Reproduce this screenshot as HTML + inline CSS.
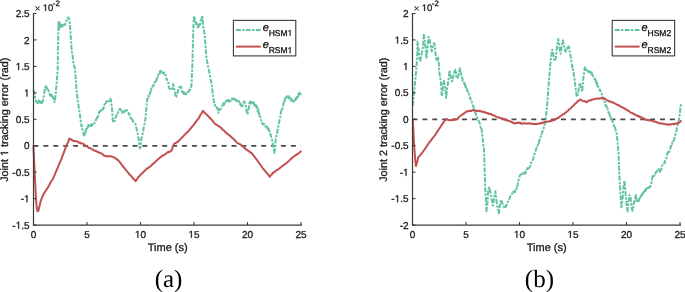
<!DOCTYPE html>
<html><head><meta charset="utf-8"><style>
html,body{margin:0;padding:0;background:#fff;width:685px;height:292px;overflow:hidden}
svg{display:block;will-change:transform}
text{font-family:"Liberation Sans",sans-serif;fill:#1a1a1a;stroke:#1a1a1a;stroke-width:0.3px;text-rendering:geometricPrecision}
.t{font-size:10px}
.sup{font-size:7.8px}
.xl{font-size:11px}
.yl{font-size:10.8px}
.e{font-size:11px;font-style:italic;fill:#000}
.s{font-size:8.5px;fill:#000}
.cap{font-family:"Liberation Serif",serif;font-size:25px;fill:#000;stroke:none}
.h{fill:none;stroke:none}
.g1{fill:#1a1a1a;stroke:#1a1a1a}
</style></head><body>
<svg width="685" height="292" viewBox="0 0 685 292">
<line x1="33.5" y1="145.85" x2="301.0" y2="145.85" stroke="#4a4a4a" stroke-width="1.6" stroke-dasharray="4.95 4.95"/>
<line x1="412.5" y1="119.4" x2="680.0" y2="119.4" stroke="#4a4a4a" stroke-width="1.6" stroke-dasharray="4.95 4.95"/>
<polyline points="33.7,90.0 34.1,92.5 34.5,95.0 35.0,96.7 35.5,100.1 35.9,100.3 36.4,101.8 36.8,102.6 37.2,101.5 37.6,100.9 38.0,103.1 38.4,100.9 38.8,100.4 39.2,102.4 39.6,101.1 40.0,102.7 40.5,102.0 40.9,102.9 41.3,101.8 41.6,102.8 42.0,103.0 42.3,101.4 42.7,101.6 43.0,100.9 43.4,98.4 43.8,95.9 44.2,92.0 44.6,91.1 45.0,88.8 45.4,87.4 45.8,86.0 46.2,88.2 46.6,87.2 47.0,88.4 47.4,89.2 47.8,89.5 48.1,91.0 48.5,90.2 49.0,92.7 49.5,92.8 50.0,95.1 50.5,95.7 50.9,93.6 51.2,94.1 51.5,94.7 51.9,97.5 52.2,96.1 52.6,97.1 53.0,96.9 53.3,98.4 53.7,98.9 54.0,99.6 54.4,101.2 54.7,102.1 55.2,98.2 55.7,94.7 56.2,88.5 56.7,82.3 57.2,76.2 57.7,70.0 57.9,49.7 58.4,30.0 58.6,21.0 59.3,29.0 59.9,23.0 60.2,25.5 60.6,28.0 61.3,24.7 61.6,25.8 62.0,27.8 62.4,26.4 62.7,25.4 63.4,26.3 63.8,24.5 64.2,24.9 64.7,25.0 65.2,24.7 65.6,23.1 66.0,22.4 66.3,20.5 66.7,20.6 67.3,18.6 67.9,17.4 68.6,17.5 69.2,19.5 69.6,21.6 69.9,23.7 70.3,30.5 70.8,37.4 71.2,43.5 71.6,49.7 71.9,51.7 72.3,53.7 72.7,56.5 73.0,59.2 73.3,62.0 73.7,64.7 74.2,66.1 74.6,67.4 75.1,68.8 75.4,74.2 75.8,79.7 76.2,86.4 76.6,90.0 77.0,93.6 77.3,97.2 77.7,100.8 78.1,103.3 78.5,105.9 78.9,108.5 79.3,111.0 79.7,112.8 80.0,115.6 80.5,118.8 81.0,122.9 81.4,125.9 81.8,125.4 82.1,129.0 82.5,129.8 82.9,130.2 83.2,131.7 83.6,134.1 84.0,135.5 84.4,133.1 84.9,134.5 85.3,132.8 85.7,132.6 86.0,129.6 86.4,129.0 86.8,128.8 87.1,127.2 87.5,128.1 87.8,125.9 88.2,124.9 88.6,126.5 89.0,125.2 89.5,125.8 89.9,126.6 90.3,127.3 90.7,125.5 91.1,124.6 91.5,126.1 91.9,124.0 92.3,125.1 92.7,124.8 93.0,123.2 93.3,123.3 93.7,123.3 94.1,123.4 94.4,123.1 94.8,122.2 95.2,121.6 95.6,121.6 96.0,119.6 96.4,118.6 96.8,118.6 97.2,116.5 97.7,115.8 98.1,116.8 98.5,114.8 98.9,114.0 99.3,111.7 99.7,112.0 100.1,111.5 100.5,109.3 100.9,110.6 101.3,110.4 101.8,108.8 102.2,110.0 102.6,109.4 102.9,109.3 103.3,107.8 103.7,108.0 104.0,107.4 104.3,104.8 104.7,104.3 105.1,105.0 105.5,105.0 105.9,102.3 106.3,102.0 106.7,101.5 107.1,101.0 107.5,101.3 108.0,101.4 108.4,101.8 108.8,102.5 109.2,101.2 109.6,100.7 110.0,101.1 110.4,98.6 110.8,99.4 111.3,102.8 111.8,106.4 112.2,111.2 112.5,116.0 112.9,120.8 113.4,122.3 113.9,122.6 114.3,121.2 114.7,121.0 115.2,118.7 115.6,117.4 116.0,116.6 116.4,116.2 116.8,114.3 117.2,113.9 117.6,113.1 118.0,113.2 118.4,111.7 118.8,111.6 119.3,109.5 119.7,109.0 120.1,108.8 120.5,110.0 120.9,110.1 121.3,110.5 121.7,111.1 122.1,112.7 122.4,111.9 122.8,112.8 123.2,112.7 123.5,111.4 123.8,111.4 124.2,112.2 124.6,111.4 125.0,111.3 125.4,110.1 125.8,109.3 126.2,109.1 126.6,110.5 126.9,110.1 127.2,110.8 127.6,111.4 128.0,111.9 128.3,112.4 128.7,114.2 129.1,113.6 129.5,114.2 129.9,116.7 130.3,117.4 130.7,118.2 131.1,117.8 131.6,119.4 132.0,119.9 132.4,119.3 132.8,120.9 133.2,121.6 133.6,122.0 134.0,122.3 134.4,122.5 134.8,123.3 135.2,123.9 135.6,124.3 136.0,126.0 136.4,127.8 136.9,129.9 137.3,131.9 137.8,134.4 138.2,137.0 138.7,139.5 139.1,142.5 139.4,145.4 139.8,148.4 140.3,147.4 140.8,146.3 141.4,138.0 141.8,136.8 142.1,135.7 142.5,134.5 142.8,133.3 143.2,131.0 143.5,128.7 143.9,126.4 144.4,124.3 144.9,122.3 145.5,118.2 146.2,110.0 146.6,105.0 147.0,100.1 147.4,98.5 147.8,98.7 148.3,95.8 148.7,96.7 149.1,95.2 149.5,94.7 149.9,93.7 150.3,92.7 150.6,90.9 151.0,88.6 151.4,89.4 151.8,87.0 152.2,86.6 152.6,86.8 153.0,85.8 153.4,84.9 153.8,85.4 154.2,84.0 154.6,82.6 155.0,81.7 155.4,82.5 155.8,80.9 156.2,81.0 156.6,79.2 156.9,77.8 157.3,77.6 157.7,77.3 158.0,74.7 158.4,75.5 158.8,75.1 159.3,74.1 159.7,73.5 160.1,70.8 160.5,72.4 160.9,73.2 161.3,71.3 161.7,72.0 162.1,72.1 162.5,72.9 162.9,72.8 163.4,73.1 163.8,73.9 164.2,72.2 164.6,73.0 165.1,73.9 165.5,74.6 165.8,75.5 166.2,78.7 166.6,79.4 166.9,78.6 167.2,80.5 167.6,80.9 168.0,81.7 168.3,82.6 169.0,87.8 169.4,88.6 169.9,88.9 170.3,88.9 170.8,88.9 171.2,89.7 171.7,89.6 172.0,89.3 172.4,88.3 172.8,86.1 173.1,84.0 173.6,85.6 174.0,87.5 174.4,89.7 174.7,91.7 175.1,92.3 175.4,95.0 175.8,97.4 176.3,97.0 176.7,95.4 177.2,93.8 177.5,92.3 177.9,91.2 178.2,90.4 178.6,88.3 179.0,88.1 179.5,86.6 179.9,85.2 180.2,86.6 180.6,87.6 181.0,86.8 181.3,88.3 181.8,89.5 182.2,91.7 182.7,92.9 183.1,92.0 183.5,93.8 183.9,93.9 184.3,93.1 184.7,93.5 185.1,92.6 185.4,94.2 185.8,93.7 186.2,94.1 186.6,93.8 186.9,93.4 187.3,93.5 187.7,93.0 188.1,91.5 188.4,92.3 188.8,90.5 189.2,90.5 189.6,91.6 189.9,89.5 190.3,89.2 190.7,87.2 191.2,87.1 191.6,83.4 191.9,75.7 192.3,67.1 192.8,50.0 193.3,30.5 193.7,18.2 194.0,17.0 194.4,20.0 194.8,18.0 195.1,20.7 195.5,21.3 196.0,22.9 196.4,24.4 196.8,24.1 197.1,25.7 197.5,24.1 197.8,27.3 198.3,26.2 198.7,26.7 199.2,24.5 199.6,25.4 200.1,24.9 200.5,20.9 200.8,20.4 201.2,19.8 201.6,19.2 201.9,16.0 202.6,17.2 202.9,23.0 203.3,27.8 203.8,30.1 204.2,32.4 204.7,34.7 205.3,41.5 205.8,49.7 206.5,58.6 206.9,60.3 207.2,62.0 207.6,63.7 207.9,65.4 208.3,67.1 208.7,69.2 209.2,71.4 209.6,73.5 210.0,75.7 210.4,77.8 210.8,80.0 211.3,82.1 211.7,84.2 212.1,88.1 212.5,92.0 212.9,95.0 213.3,98.0 213.8,100.8 214.2,103.5 214.5,103.4 214.9,104.8 215.2,105.7 215.6,105.3 216.0,105.7 216.3,106.3 216.7,107.2 217.1,108.4 217.6,108.6 218.0,110.7 218.4,112.9 218.8,110.9 219.2,111.1 219.6,109.0 220.0,109.7 220.4,109.3 220.8,108.2 221.2,107.0 221.7,106.1 222.1,105.7 222.5,105.5 222.9,103.4 223.3,103.0 223.7,104.5 224.1,104.8 224.5,103.5 224.9,102.9 225.3,103.2 225.8,101.4 226.2,101.2 226.6,100.6 227.0,101.4 227.4,100.5 227.8,100.1 228.2,101.1 228.6,101.6 229.0,99.9 229.4,100.9 229.9,100.2 230.3,101.3 230.7,100.6 231.1,99.6 231.5,99.3 231.9,98.6 232.3,99.5 232.7,99.1 233.0,98.5 233.4,99.0 233.8,98.9 234.1,100.1 234.5,98.5 234.8,100.7 235.2,99.5 235.6,100.1 236.0,99.9 236.4,101.1 236.8,101.2 237.2,100.7 237.6,100.8 238.1,101.6 238.5,102.1 238.9,101.1 239.3,102.8 239.7,104.2 240.2,103.7 240.6,103.5 241.0,104.3 241.4,106.3 241.8,105.9 242.2,106.9 242.6,106.3 243.0,103.4 243.4,102.5 243.8,102.2 244.3,101.3 244.7,102.9 245.1,103.0 245.6,104.5 246.1,107.6 246.6,111.9 247.1,111.6 247.6,113.8 248.1,110.9 248.5,109.3 248.8,108.6 249.2,103.7 249.7,102.0 250.2,103.5 250.6,101.6 250.9,102.4 251.3,103.9 251.6,104.8 252.0,102.3 252.4,103.3 252.9,103.2 253.3,102.9 253.7,102.3 254.1,104.6 254.5,106.8 254.9,104.9 255.3,106.2 255.7,104.7 256.1,105.8 256.6,107.9 257.0,105.8 257.5,110.4 257.9,111.6 258.4,109.2 258.8,114.3 259.2,113.5 259.6,115.7 260.0,117.0 260.4,117.2 260.8,119.0 261.1,120.1 261.5,121.4 261.9,121.4 262.3,123.5 262.7,124.3 263.1,124.1 263.5,124.2 263.9,123.8 264.2,124.9 264.6,125.0 265.0,126.1 265.4,126.5 265.8,126.6 266.2,126.2 266.6,127.6 266.9,127.9 267.3,127.4 267.7,129.2 268.1,129.1 268.5,128.4 268.9,131.0 269.3,130.4 269.6,131.8 270.0,133.5 270.4,134.2 270.8,135.1 271.2,136.8 271.7,138.7 272.1,140.5 272.6,142.8 273.0,145.1 273.5,147.4 274.2,152.9 274.6,151.1 274.9,149.2 275.3,147.4 275.5,140.5 276.0,138.2 276.4,136.0 276.9,133.7 277.3,131.8 277.7,129.8 278.0,127.9 278.4,125.9 278.8,124.0 279.2,122.0 279.6,119.9 280.0,118.4 280.4,115.7 280.8,113.2 281.2,111.1 281.6,109.2 282.1,109.9 282.5,108.5 283.0,105.7 283.4,104.3 283.9,100.9 284.2,100.1 284.6,100.0 284.9,101.2 285.3,97.8 285.6,98.9 286.0,97.5 286.4,98.7 286.8,96.7 287.2,96.0 287.6,95.6 288.0,95.4 288.4,96.9 288.7,96.2 289.1,98.5 289.4,96.7 289.8,97.9 290.1,98.0 290.5,98.3 290.9,100.8 291.2,100.9 291.6,99.3 292.0,99.6 292.4,100.6 292.7,102.0 293.1,102.5 293.5,102.0 293.9,101.3 294.4,99.6 294.8,100.3 295.2,99.4 295.6,100.0 295.9,99.6 296.2,97.8 296.6,97.5 296.9,98.8 297.3,95.7 297.7,97.1 298.1,96.1 298.5,95.0 298.9,91.8 299.2,92.7 299.6,93.1 299.9,93.7 300.3,95.2 300.6,94.5 301.0,93.5" fill="none" stroke="#62c3a2" stroke-width="2" stroke-linejoin="round" stroke-dasharray="4.9 1.3 2.4 1.3"/>
<polyline points="33.4,145.4 34.1,160.0 35.1,180.5 36.0,200.0 36.8,208.0 37.6,211.3 38.5,210.5 39.5,206.0 40.5,202.0 41.2,199.8 42.0,197.5 42.7,196.2 43.3,194.8 44.0,193.5 44.6,192.5 45.2,191.5 45.9,190.5 46.5,189.5 47.2,188.5 47.8,187.5 48.5,186.5 49.2,185.2 49.8,183.8 50.5,182.5 51.2,181.5 51.9,180.5 52.6,179.5 53.3,177.9 54.0,176.3 54.7,174.8 55.3,173.2 56.0,171.6 56.7,170.0 57.4,168.4 58.1,166.8 58.8,165.2 59.4,163.7 60.1,162.1 60.8,160.5 61.4,158.9 62.0,157.2 62.6,155.6 63.3,153.9 63.9,152.3 64.5,150.6 65.1,149.0 65.7,147.5 66.3,146.0 66.9,144.5 67.6,143.1 68.2,141.6 68.8,140.1 69.4,138.6 70.2,139.0 71.1,139.4 71.8,140.0 72.4,140.2 73.0,140.7 73.7,141.1 74.3,140.9 75.0,141.1 75.6,141.2 76.2,141.2 76.8,141.2 77.5,141.7 78.2,141.9 78.8,142.7 79.4,142.8 80.0,142.6 80.7,143.2 81.3,143.4 81.9,143.4 82.5,143.6 83.1,143.8 83.8,144.2 84.4,144.9 85.0,145.1 85.7,145.7 86.3,146.2 86.9,146.4 87.6,146.9 88.2,147.2 88.8,147.7 89.5,147.9 90.1,148.3 90.7,148.5 91.3,148.9 91.9,149.1 92.6,149.4 93.2,150.0 93.8,150.3 94.4,150.6 95.1,150.8 95.7,151.0 96.3,151.2 97.0,151.6 97.6,151.8 98.2,152.3 98.9,152.4 99.5,152.8 100.1,152.8 100.8,153.3 101.4,153.5 102.1,153.7 102.8,154.4 103.5,155.3 104.2,155.7 104.9,156.1 105.6,155.9 106.3,155.9 107.0,156.4 107.6,156.4 108.3,156.2 108.9,156.1 109.5,156.2 110.2,156.5 110.8,156.4 111.4,156.3 112.0,156.6 112.7,156.8 113.3,156.9 113.9,157.5 114.5,157.4 115.1,158.1 115.8,158.5 116.4,158.8 117.0,159.6 117.7,159.7 118.3,160.5 118.9,161.0 119.6,161.9 120.2,162.6 120.8,163.4 121.5,164.6 122.1,165.3 122.7,165.8 123.3,166.9 123.9,167.3 124.6,168.2 125.2,169.2 125.8,169.9 126.4,170.4 127.1,171.6 127.7,172.0 128.3,172.8 129.0,173.9 129.6,174.4 130.2,175.1 130.9,175.7 131.5,176.4 132.1,177.3 132.8,177.9 133.4,178.8 134.1,179.4 134.9,180.3 135.6,181.3 136.2,180.2 136.8,179.3 137.5,178.5 138.1,177.2 138.8,176.5 139.5,176.2 140.2,175.4 140.9,174.4 141.6,173.7 142.2,173.3 142.9,172.7 143.5,171.7 144.2,171.4 144.8,170.7 145.5,170.0 146.1,169.4 146.7,168.8 147.3,168.3 147.9,168.3 148.6,167.5 149.2,167.3 149.8,166.6 150.4,166.4 151.0,165.8 151.6,165.1 152.2,164.5 152.8,164.2 153.4,163.4 154.0,162.9 154.6,162.5 155.2,162.1 155.8,161.4 156.4,160.7 157.0,160.5 157.6,159.6 158.2,159.0 158.8,158.6 159.5,158.2 160.1,157.5 160.7,157.1 161.3,156.6 161.9,156.2 162.5,155.6 163.1,155.3 163.7,155.2 164.3,154.8 165.0,154.3 165.6,153.9 166.2,153.4 166.8,152.8 167.4,152.4 168.1,152.0 168.8,152.2 169.4,151.8 170.1,151.6 170.8,150.8 171.5,150.8 172.2,148.6 172.9,146.7 173.6,145.1 174.2,144.0 174.8,143.2 175.4,143.1 176.0,142.8 176.6,142.5 177.2,142.0 177.8,141.6 178.4,141.2 179.0,140.7 179.6,139.8 180.2,139.4 180.8,138.9 181.4,138.2 182.0,137.4 182.6,137.0 183.2,136.4 183.8,135.6 184.4,135.1 185.0,134.3 185.6,133.8 186.2,133.2 186.9,132.3 187.5,132.0 188.1,131.6 188.7,130.9 189.3,130.2 189.9,129.3 190.5,128.7 191.1,127.9 191.7,127.0 192.4,126.5 193.0,125.4 193.6,124.9 194.2,123.8 194.8,123.4 195.5,122.4 196.2,121.3 196.9,120.6 197.5,119.6 198.2,118.8 198.9,118.0 199.6,116.5 200.3,115.3 200.9,114.3 201.6,113.4 202.3,112.0 203.0,110.8 203.7,111.9 204.4,112.4 205.1,113.0 205.8,113.9 206.5,114.3 207.2,115.1 207.9,115.6 208.5,116.4 209.2,117.3 209.9,118.0 210.5,118.7 211.1,119.1 211.7,119.9 212.3,120.5 212.9,121.1 213.5,121.9 214.1,122.8 214.7,123.5 215.3,124.1 215.9,124.6 216.5,124.7 217.1,125.1 217.7,125.6 218.4,125.9 219.0,126.3 219.6,126.8 220.2,127.3 220.8,127.7 221.4,128.0 222.1,129.0 222.8,129.7 223.4,130.2 224.1,130.7 224.8,131.4 225.5,132.5 226.1,132.6 226.7,133.4 227.4,133.9 228.0,134.2 228.6,135.0 229.2,135.1 229.8,135.7 230.5,136.4 231.1,136.7 231.7,137.6 232.4,137.9 233.0,138.4 233.7,139.0 234.3,139.9 235.0,140.4 235.7,141.2 236.4,141.9 237.1,142.7 237.8,143.4 238.5,143.7 239.2,143.8 239.9,144.3 240.6,144.5 241.2,145.0 241.9,145.8 242.5,146.4 243.1,146.7 243.8,147.3 244.4,147.8 245.0,148.5 245.7,148.8 246.3,149.4 246.9,149.9 247.6,150.2 248.2,150.8 248.8,151.4 249.5,151.4 250.1,152.3 250.7,152.7 251.4,152.8 252.0,153.5 252.6,154.3 253.2,155.3 253.8,155.8 254.5,156.7 255.1,157.6 255.7,158.3 256.3,159.3 257.0,159.9 257.6,160.9 258.2,161.6 258.9,162.7 259.5,163.7 260.1,164.4 260.7,165.3 261.4,165.9 262.0,167.1 262.6,168.0 263.2,168.8 263.8,169.4 264.5,170.3 265.1,170.9 265.7,171.9 266.4,172.7 267.0,173.2 267.7,173.9 268.4,175.0 269.1,175.9 269.8,176.8 270.5,175.8 271.2,174.8 272.0,174.3 272.7,173.1 273.3,173.0 273.9,172.2 274.5,171.8 275.2,171.6 275.8,170.8 276.4,170.3 277.0,170.0 277.7,169.7 278.3,169.3 278.9,168.7 279.6,168.4 280.2,167.7 280.8,167.4 281.5,166.5 282.1,166.1 282.7,165.8 283.4,165.2 284.0,164.9 284.6,164.4 285.2,163.9 285.9,163.6 286.5,163.0 287.1,162.4 287.7,161.9 288.3,161.5 289.0,160.9 289.6,160.0 290.2,159.6 290.9,159.1 291.5,158.2 292.1,157.8 292.8,157.1 293.4,156.8 294.0,156.3 294.7,155.9 295.3,155.2 295.9,155.2 296.5,154.6 297.1,154.2 297.8,154.0 298.4,153.4 299.0,153.0 299.6,152.6 300.2,151.8 300.9,151.6 301.5,151.1" fill="none" stroke="#c25050" stroke-width="2" stroke-linejoin="round"/>
<polyline points="412.8,105.5 413.3,100.7 413.7,95.9 414.2,91.1 414.7,85.9 415.2,80.8 415.7,75.7 416.2,70.5 416.7,64.3 417.2,58.2 417.5,41.6 418.0,45.0 418.4,48.5 418.9,51.9 419.2,55.3 419.6,58.8 420.0,59.5 420.3,60.2 420.7,60.7 421.1,56.7 421.6,53.3 422.1,51.9 422.5,49.2 423.0,47.2 423.7,34.8 424.1,35.9 424.4,38.9 424.8,41.9 425.3,45.8 425.8,50.5 426.4,58.8 426.8,55.1 427.1,51.5 427.5,47.8 428.0,42.3 428.5,36.8 429.0,38.5 429.5,40.4 429.9,40.9 430.3,43.6 430.8,46.5 431.2,49.2 431.9,51.4 432.3,49.6 432.6,47.3 433.0,45.0 433.5,44.1 434.0,43.1 434.7,45.4 435.3,51.9 436.0,57.4 436.7,60.9 437.1,60.0 437.4,60.3 437.8,59.0 438.1,56.7 438.8,64.2 439.3,72.1 439.7,74.7 440.1,77.2 440.6,79.8 441.0,82.4 441.4,89.2 441.8,96.1 442.2,92.7 442.7,89.2 443.1,86.4 443.5,83.5 443.9,80.7 444.2,82.8 444.6,85.0 444.9,87.1 445.3,89.2 445.7,93.5 446.1,97.8 446.6,93.5 447.0,89.2 447.5,86.4 447.9,83.5 448.4,80.7 448.8,77.3 449.2,73.8 449.6,70.4 450.0,73.3 450.4,74.3 450.8,77.5 451.2,77.7 451.7,78.6 452.1,81.4 452.5,78.4 453.0,76.7 453.4,76.5 453.8,74.5 454.3,72.0 454.7,71.9 455.2,69.7 455.6,72.1 456.0,72.6 456.4,76.8 456.8,76.5 457.2,77.8 457.7,78.0 458.1,76.7 458.5,75.0 459.0,72.4 459.4,70.5 459.8,68.3 460.2,71.1 460.7,74.1 461.1,73.6 461.5,76.9 462.0,77.2 462.4,78.4 462.8,81.0 463.2,81.1 463.7,81.7 464.1,83.2 464.5,84.8 465.0,83.7 465.4,87.3 465.8,85.3 466.2,88.3 466.6,89.5 467.1,89.0 467.5,91.6 467.9,91.7 468.3,93.2 468.7,93.0 469.1,94.1 469.5,95.4 469.9,98.0 470.3,97.5 470.6,99.6 471.0,101.0 471.4,102.0 471.8,101.9 472.2,102.9 472.6,104.5 473.0,106.2 473.4,106.1 473.8,108.7 474.2,110.0 474.6,111.1 474.9,110.5 475.2,113.3 475.6,112.6 475.9,114.2 476.3,115.7 476.7,117.4 477.1,117.3 477.6,119.5 478.0,119.8 478.4,120.3 478.8,121.4 479.2,122.1 479.6,122.9 480.0,124.1 480.4,126.2 480.8,127.8 481.1,127.2 481.4,128.0 481.8,131.0 482.5,136.1 483.0,141.2 483.5,146.4 484.1,150.1 484.6,169.2 485.1,186.0 485.8,198.0 486.5,211.2 487.0,207.0 487.5,202.8 488.2,190.8 488.6,189.4 489.0,187.9 489.4,187.4 489.8,189.9 490.2,191.1 490.6,193.0 491.0,195.6 491.4,198.0 491.8,200.4 492.2,201.5 492.6,205.2 493.0,205.5 493.4,203.2 493.8,200.0 494.2,196.8 494.6,195.2 495.0,194.3 495.4,191.3 495.8,195.2 496.2,198.4 496.6,201.6 497.0,204.1 497.4,206.5 497.8,207.9 498.2,210.1 498.6,210.7 499.0,213.4 499.4,209.9 499.8,206.4 500.2,202.8 500.6,201.3 501.0,201.9 501.4,200.0 501.8,201.1 502.2,203.0 502.6,203.5 503.0,205.0 503.4,205.1 503.8,206.4 504.2,207.7 504.6,208.0 505.0,208.4 505.4,207.4 505.8,205.7 506.2,205.0 506.6,205.4 507.0,204.5 507.4,203.1 507.8,202.0 508.2,200.9 508.6,199.6 509.0,198.9 509.4,199.0 509.8,198.1 510.2,196.1 510.6,196.0 511.0,194.9 511.4,194.4 511.8,193.9 512.2,193.7 512.6,192.5 513.0,192.8 513.4,191.6 513.8,191.8 514.2,192.1 514.6,191.8 515.0,190.8 515.4,191.9 515.8,191.1 516.2,190.2 516.6,188.2 517.0,188.5 517.4,185.5 517.8,183.9 518.2,181.1 518.6,180.2 519.0,178.3 519.4,177.0 519.8,175.3 520.2,175.1 520.6,174.5 521.0,174.5 521.4,173.3 521.8,174.1 522.2,173.9 522.6,173.4 523.0,173.8 523.4,173.7 523.8,172.8 524.2,172.9 524.6,172.1 525.0,173.5 525.4,173.7 525.8,171.6 526.2,170.8 526.6,169.6 527.0,169.5 527.4,168.1 527.8,169.2 528.2,168.6 528.6,168.5 529.0,167.8 529.4,167.4 529.8,166.9 530.2,165.9 530.6,165.2 531.0,163.1 531.4,162.5 531.8,162.1 532.2,161.5 532.6,159.6 533.0,159.6 533.4,158.5 533.8,156.3 534.2,155.9 534.5,154.3 534.9,152.7 535.3,151.7 535.6,150.8 536.0,149.4 536.4,148.4 536.7,147.2 537.1,147.1 537.4,145.9 537.8,145.4 538.2,144.4 538.5,142.8 538.9,143.1 539.2,140.4 539.6,140.2 540.0,138.8 540.4,137.8 540.8,136.0 541.2,136.3 541.6,134.1 542.0,132.3 542.4,132.2 542.8,130.0 543.2,129.7 543.6,128.1 544.0,127.4 544.4,126.9 544.8,124.2 545.2,121.0 545.6,119.4 546.0,115.6 546.4,112.4 546.8,109.2 547.2,104.4 547.6,99.6 548.1,92.4 548.6,85.2 549.0,80.4 549.4,75.6 549.8,70.8 550.2,66.0 550.6,61.2 551.0,56.4 551.4,54.7 551.8,52.1 552.2,49.7 552.6,51.8 553.0,52.9 553.4,54.9 553.8,57.3 554.2,59.0 554.6,60.9 555.0,61.2 555.4,58.6 555.8,58.0 556.2,54.8 556.6,50.8 557.0,46.8 557.4,44.5 557.8,42.2 558.2,38.9 558.6,42.0 559.0,44.4 559.4,46.8 559.8,49.5 560.2,52.4 560.6,53.8 561.0,50.8 561.4,47.6 561.8,44.4 562.2,43.1 562.6,41.5 563.0,40.4 563.4,43.3 563.8,43.8 564.2,46.5 564.6,48.4 565.0,49.8 565.4,51.1 565.8,51.8 566.2,50.0 566.6,49.0 567.0,48.0 567.4,48.6 567.8,46.8 568.2,46.4 568.6,47.5 569.0,46.6 569.4,50.4 569.8,51.8 570.2,53.3 570.6,56.4 571.0,58.8 571.4,61.2 571.8,64.6 572.2,67.2 572.6,66.6 573.0,70.1 573.4,70.8 573.8,74.8 574.2,76.4 574.6,79.6 575.0,82.8 575.4,86.0 575.8,89.2 576.2,92.4 576.7,96.0 577.2,96.7 577.7,94.2 578.1,91.8 578.6,91.0 579.0,87.6 579.4,85.2 579.8,82.8 580.2,84.0 580.6,86.2 581.0,87.5 581.4,89.1 581.8,90.2 582.2,91.7 582.6,86.8 583.0,82.4 583.4,78.0 583.8,74.8 584.2,71.6 584.6,68.4 585.0,67.5 585.4,70.1 585.8,68.9 586.2,70.0 586.6,69.6 587.0,69.8 587.4,70.9 587.8,70.9 588.2,70.7 588.6,72.2 589.0,71.9 589.4,70.2 589.8,71.2 590.2,72.2 590.6,74.2 591.0,74.5 591.4,73.8 591.8,72.3 592.2,75.3 592.6,74.8 593.0,75.9 593.4,76.9 593.8,77.2 594.2,77.3 594.6,79.4 595.0,78.6 595.4,79.6 595.8,82.2 596.2,81.0 596.6,82.3 597.0,85.1 597.4,83.3 597.8,86.7 598.2,86.8 598.6,87.1 599.0,87.6 599.4,89.4 599.8,90.5 600.1,89.8 600.5,91.4 600.8,92.4 601.1,93.1 601.5,93.7 601.9,94.3 602.3,96.2 602.6,97.7 603.0,97.2 603.4,98.5 603.8,100.7 604.1,101.5 604.5,102.1 604.9,101.7 605.2,103.9 605.5,105.3 605.9,106.2 606.2,106.5 606.6,106.0 607.0,108.6 607.4,108.3 607.8,110.1 608.1,111.7 608.5,112.3 608.9,112.1 609.3,113.4 609.6,115.5 610.0,114.9 610.3,116.7 610.7,117.2 611.0,117.6 611.4,119.4 611.8,119.2 612.1,120.2 612.5,121.7 612.9,122.0 613.2,122.9 613.6,124.9 614.0,126.1 614.4,127.4 614.7,126.8 615.1,128.4 615.5,129.1 615.9,131.1 616.4,132.3 616.8,134.6 617.2,137.8 617.5,141.9 617.9,146.0 618.2,150.1 618.6,154.2 619.2,172.3 619.9,184.7 620.3,190.8 620.7,197.0 621.3,207.3 621.8,204.2 622.3,201.1 622.7,197.0 623.0,192.9 623.4,188.8 623.9,184.7 624.4,180.5 624.9,185.7 625.4,190.8 625.9,196.9 626.4,203.1 626.8,205.9 627.1,208.6 627.5,211.4 628.0,206.2 628.5,201.1 629.0,198.0 629.5,194.9 630.0,195.7 630.5,196.1 630.9,200.4 631.2,203.9 631.6,207.3 632.1,209.7 632.6,210.7 633.1,207.8 633.6,204.2 634.0,203.1 634.3,201.5 634.7,200.9 635.2,197.6 635.7,195.1 636.2,198.0 636.7,201.1 637.1,200.6 637.5,201.2 638.0,200.6 638.4,201.6 638.8,201.1 639.2,199.3 639.6,198.5 640.0,197.8 640.4,197.5 640.8,195.4 641.1,196.1 641.5,195.6 641.8,194.1 642.2,194.9 642.5,193.4 642.9,193.1 643.3,193.5 643.7,192.1 644.1,192.8 644.5,191.4 644.9,190.4 645.2,191.1 645.6,189.2 646.0,190.3 646.3,188.6 646.6,188.4 647.0,189.7 647.4,188.9 647.8,187.8 648.2,187.4 648.6,188.9 649.0,188.0 649.4,187.9 649.8,186.1 650.2,186.6 650.6,185.6 651.0,184.9 651.4,182.9 651.8,181.3 652.2,178.2 652.7,175.8 653.1,175.0 653.5,176.2 654.0,175.6 654.4,175.7 654.8,174.1 655.2,174.1 655.7,172.6 656.1,171.9 656.5,171.6 656.8,171.7 657.2,170.8 657.6,169.9 658.0,169.6 658.3,169.6 658.7,169.1 659.1,171.2 659.5,170.8 660.0,171.8 660.4,170.7 660.8,170.1 661.2,169.5 661.7,167.4 662.1,165.6 662.5,165.1 662.8,163.9 663.2,163.6 663.6,163.1 664.0,163.0 664.3,162.6 664.7,163.1 665.1,160.7 665.5,160.1 666.0,159.2 666.4,158.1 666.8,155.8 667.3,153.2 667.7,153.2 668.1,151.9 668.6,153.3 669.0,151.7 669.4,151.6 669.9,149.8 670.3,148.4 670.7,146.7 671.1,146.6 671.5,143.9 672.0,144.0 672.4,142.2 672.8,142.5 673.2,142.2 673.7,140.7 674.1,140.3 674.6,137.9 675.0,136.2 675.5,133.9 676.0,132.2 676.4,131.1 676.9,127.6 677.4,125.7 677.8,124.2 678.3,122.0 678.6,121.1 679.0,119.4 679.4,116.6 679.7,115.0 680.3,108.7 680.6,106.3 681.0,103.9" fill="none" stroke="#62c3a2" stroke-width="2" stroke-linejoin="round" stroke-dasharray="4.9 1.3 2.4 1.3"/>
<polyline points="412.8,119.2 414.0,143.2 415.2,160.0 415.9,166.0 416.5,164.2 417.1,162.4 418.1,157.6 418.7,156.9 419.3,156.2 420.0,155.4 420.6,154.7 421.2,154.0 421.8,153.2 422.4,152.4 423.0,151.6 423.6,150.8 424.2,150.0 424.8,149.2 425.4,148.3 426.0,147.4 426.6,146.5 427.2,145.6 427.8,144.7 428.4,143.8 429.0,142.9 429.6,142.0 430.3,141.1 431.0,140.3 431.7,139.4 432.3,138.6 433.0,137.7 433.7,136.9 434.4,136.0 435.0,135.1 435.6,134.2 436.2,133.3 436.8,132.4 437.4,131.5 438.0,130.6 438.6,129.7 439.2,128.8 439.8,127.9 440.4,127.0 441.0,126.0 441.6,124.9 442.2,124.6 442.8,123.1 443.4,122.5 444.0,121.9 444.8,120.5 445.6,120.0 446.4,119.3 447.0,119.1 447.6,119.5 448.2,119.9 448.8,120.0 449.4,120.4 450.0,120.2 450.6,120.1 451.2,119.9 451.8,120.1 452.4,120.2 453.0,119.9 453.6,119.9 454.3,119.5 455.0,119.7 455.8,119.1 456.5,119.2 457.2,119.3 457.8,118.8 458.4,117.9 459.0,117.1 459.6,116.6 460.3,116.0 461.0,115.5 461.8,115.3 462.5,114.3 463.2,114.2 463.8,113.8 464.4,112.8 465.0,112.6 465.6,112.3 466.2,111.6 466.8,111.4 467.6,111.6 468.3,110.9 469.1,111.1 469.8,110.6 470.5,110.9 471.1,111.0 471.8,110.4 472.5,110.2 473.2,110.1 473.9,110.5 474.6,110.2 475.2,110.3 475.9,110.7 476.6,111.0 477.3,110.7 478.0,110.8 478.7,111.1 479.4,110.8 480.0,111.3 480.7,111.1 481.4,111.5 482.1,111.9 482.8,111.5 483.4,112.0 484.1,112.2 484.8,112.1 485.5,112.3 486.2,113.1 486.9,113.3 487.6,112.9 488.3,113.6 489.0,114.0 489.7,113.7 490.4,114.2 491.1,114.1 491.8,114.6 492.4,115.1 493.1,115.3 493.8,115.7 494.5,115.5 495.2,116.0 495.9,116.6 496.5,116.7 497.2,116.9 497.9,117.1 498.6,117.8 499.3,117.7 499.9,117.6 500.6,118.3 501.3,118.2 502.0,118.6 502.7,118.6 503.4,119.1 504.1,119.2 504.7,119.3 505.4,119.9 506.1,119.8 506.8,120.5 507.5,120.2 508.1,120.9 508.8,121.1 509.5,121.1 510.2,121.4 510.9,121.5 511.6,122.2 512.2,122.3 512.9,122.5 513.6,123.4 514.3,123.3 515.0,123.2 515.7,123.4 516.3,123.0 517.0,123.1 517.7,122.6 518.4,122.9 519.1,122.6 519.8,122.6 520.5,123.4 521.1,122.9 521.8,123.6 522.5,123.7 523.1,123.5 523.8,123.1 524.4,123.1 525.0,123.3 525.6,123.4 526.2,123.6 526.9,123.8 527.5,123.4 528.1,123.3 528.8,123.6 529.4,123.3 530.0,123.3 530.7,123.7 531.4,123.9 532.1,123.5 532.7,123.8 533.4,124.0 534.1,124.1 534.8,123.9 535.4,124.2 536.0,123.7 536.6,124.0 537.2,124.0 537.8,124.0 538.4,123.7 539.0,123.4 539.6,123.3 540.3,123.4 541.0,123.0 541.7,123.2 542.3,122.6 543.0,122.9 543.7,122.4 544.4,122.1 545.0,122.0 545.6,122.1 546.2,122.0 546.8,121.7 547.4,121.4 548.0,121.5 548.6,121.7 549.2,121.2 549.9,121.3 550.6,120.5 551.3,121.0 551.9,120.8 552.6,120.4 553.3,120.2 554.0,120.0 554.7,119.9 555.4,119.0 556.1,119.1 556.7,118.7 557.4,118.1 558.1,118.1 558.8,117.8 559.4,116.8 560.0,116.6 560.7,116.0 561.4,115.6 562.0,115.2 562.7,114.4 563.4,114.3 564.1,113.7 564.8,113.5 565.5,112.4 566.2,112.3 566.8,111.6 567.5,111.0 568.2,110.6 568.9,109.4 569.6,109.2 570.2,108.7 570.9,108.2 571.6,107.4 572.3,106.6 573.0,106.0 573.7,105.6 574.3,104.6 575.0,103.9 575.7,103.4 576.4,102.8 577.1,102.1 577.8,101.1 578.5,101.0 579.2,100.0 579.9,99.6 580.6,99.4 581.2,100.3 581.9,100.4 582.6,100.9 583.3,101.2 584.0,101.4 584.7,101.1 585.4,101.5 586.0,101.7 586.7,102.3 587.4,101.5 588.1,101.0 588.8,100.5 589.5,100.3 590.2,100.6 590.8,100.4 591.5,99.8 592.2,99.8 592.9,99.4 593.6,99.3 594.3,99.1 595.0,99.1 595.6,98.7 596.3,98.6 597.0,98.7 597.7,98.4 598.4,98.6 599.0,98.9 599.7,98.2 600.4,98.2 601.1,98.6 601.8,98.0 602.5,98.1 603.1,98.5 603.8,98.3 604.5,98.5 605.2,98.8 605.9,99.5 606.6,100.0 607.3,100.5 608.0,100.9 608.7,101.0 609.3,101.2 610.0,101.5 610.7,101.7 611.4,102.0 612.1,102.4 612.8,102.2 613.4,102.7 614.1,103.0 614.8,103.6 615.5,103.8 616.2,104.1 616.8,104.7 617.5,104.8 618.2,105.0 618.9,105.3 619.6,105.9 620.3,106.4 621.0,106.8 621.7,107.1 622.4,107.3 623.1,107.8 623.7,108.0 624.4,108.3 625.1,108.9 625.8,109.0 626.4,109.7 627.0,110.1 627.6,110.1 628.2,110.8 628.8,111.0 629.4,111.5 630.0,112.0 630.6,112.5 631.2,112.9 631.9,113.1 632.5,113.1 633.2,113.7 633.8,113.9 634.5,114.0 635.1,114.7 635.7,115.0 636.3,115.5 637.0,115.4 637.6,116.1 638.2,116.1 638.8,116.1 639.4,116.9 640.0,116.8 640.7,117.3 641.3,117.3 641.9,117.5 642.5,118.4 643.1,118.1 643.8,118.5 644.4,118.8 645.0,119.0 645.6,119.7 646.2,119.9 646.9,119.9 647.5,119.8 648.1,120.3 648.7,120.2 649.3,120.1 650.0,120.6 650.6,120.6 651.2,120.6 651.8,120.8 652.5,121.0 653.1,121.0 653.7,121.5 654.4,121.8 655.0,121.7 655.7,121.6 656.4,122.3 657.0,122.1 657.7,122.6 658.4,123.1 659.1,123.2 659.8,123.5 660.5,123.5 661.2,123.3 661.8,123.3 662.5,123.6 663.2,123.9 663.9,123.7 664.6,123.9 665.2,124.3 665.9,124.2 666.6,124.5 667.3,124.5 668.0,124.8 668.7,124.2 669.3,124.3 670.0,124.7 670.7,124.6 671.4,124.2 672.1,124.1 672.8,124.1 673.5,124.2 674.1,124.3 674.8,123.7 675.5,123.6 676.2,123.7 676.9,123.2 677.6,123.2 678.3,123.0 679.0,122.7 679.7,122.2 680.4,121.7 681.0,121.0 681.7,121.2" fill="none" stroke="#c25050" stroke-width="2" stroke-linejoin="round"/>
<line x1="32.9" y1="225.05" x2="302.0" y2="225.05" stroke="#3a3a3a" stroke-width="1.3"/>
<line x1="33.5" y1="13.0" x2="33.5" y2="225.05" stroke="#3a3a3a" stroke-width="1.2"/>
<line x1="33.5" y1="13.50" x2="36.5" y2="13.50" stroke="#3a3a3a" stroke-width="1.1"/>
<text x="29.6" y="17.10" text-anchor="end" class="t">2.5</text>
<line x1="33.5" y1="39.94" x2="36.5" y2="39.94" stroke="#3a3a3a" stroke-width="1.1"/>
<text x="29.6" y="43.54" text-anchor="end" class="t">2</text>
<line x1="33.5" y1="66.39" x2="36.5" y2="66.39" stroke="#3a3a3a" stroke-width="1.1"/>
<text x="29.6" y="69.99" text-anchor="end" class="t"><tspan class="h">1</tspan>.5</text><path class="g1" transform="translate(15.69,69.99) scale(0.004883,-0.004883)" d="M515 0L515 1237L197 1010L197 1180L530 1409L696 1409L696 0Z" stroke-width="61.4"/>
<line x1="33.5" y1="92.83" x2="36.5" y2="92.83" stroke="#3a3a3a" stroke-width="1.1"/>
<text x="29.6" y="96.43" text-anchor="end" class="t"><tspan class="h">1</tspan></text><path class="g1" transform="translate(24.04,96.43) scale(0.004883,-0.004883)" d="M515 0L515 1237L197 1010L197 1180L530 1409L696 1409L696 0Z" stroke-width="61.4"/>
<line x1="33.5" y1="119.28" x2="36.5" y2="119.28" stroke="#3a3a3a" stroke-width="1.1"/>
<text x="29.6" y="122.88" text-anchor="end" class="t">0.5</text>
<line x1="33.5" y1="145.72" x2="36.5" y2="145.72" stroke="#3a3a3a" stroke-width="1.1"/>
<text x="29.6" y="149.32" text-anchor="end" class="t">0</text>
<line x1="33.5" y1="172.16" x2="36.5" y2="172.16" stroke="#3a3a3a" stroke-width="1.1"/>
<text x="29.6" y="175.76" text-anchor="end" class="t">-0.5</text>
<line x1="33.5" y1="198.61" x2="36.5" y2="198.61" stroke="#3a3a3a" stroke-width="1.1"/>
<text x="29.6" y="202.21" text-anchor="end" class="t">-<tspan class="h">1</tspan></text><path class="g1" transform="translate(24.04,202.21) scale(0.004883,-0.004883)" d="M515 0L515 1237L197 1010L197 1180L530 1409L696 1409L696 0Z" stroke-width="61.4"/>
<line x1="33.5" y1="225.05" x2="36.5" y2="225.05" stroke="#3a3a3a" stroke-width="1.1"/>
<text x="29.6" y="228.65" text-anchor="end" class="t">-<tspan class="h">1</tspan>.5</text><path class="g1" transform="translate(15.69,228.65) scale(0.004883,-0.004883)" d="M515 0L515 1237L197 1010L197 1180L530 1409L696 1409L696 0Z" stroke-width="61.4"/>
<line x1="33.50" y1="225.05" x2="33.50" y2="222.05" stroke="#3a3a3a" stroke-width="1.1"/>
<text x="33.50" y="237.8" text-anchor="middle" class="t">0</text>
<line x1="87.00" y1="225.05" x2="87.00" y2="222.05" stroke="#3a3a3a" stroke-width="1.1"/>
<text x="87.00" y="237.8" text-anchor="middle" class="t">5</text>
<line x1="140.50" y1="225.05" x2="140.50" y2="222.05" stroke="#3a3a3a" stroke-width="1.1"/>
<text x="140.50" y="237.8" text-anchor="middle" class="t"><tspan class="h">1</tspan>0</text><path class="g1" transform="translate(134.94,237.80) scale(0.004883,-0.004883)" d="M515 0L515 1237L197 1010L197 1180L530 1409L696 1409L696 0Z" stroke-width="61.4"/>
<line x1="194.00" y1="225.05" x2="194.00" y2="222.05" stroke="#3a3a3a" stroke-width="1.1"/>
<text x="194.00" y="237.8" text-anchor="middle" class="t"><tspan class="h">1</tspan>5</text><path class="g1" transform="translate(188.44,237.80) scale(0.004883,-0.004883)" d="M515 0L515 1237L197 1010L197 1180L530 1409L696 1409L696 0Z" stroke-width="61.4"/>
<line x1="247.50" y1="225.05" x2="247.50" y2="222.05" stroke="#3a3a3a" stroke-width="1.1"/>
<text x="247.50" y="237.8" text-anchor="middle" class="t">20</text>
<line x1="301.00" y1="225.05" x2="301.00" y2="222.05" stroke="#3a3a3a" stroke-width="1.1"/>
<text x="301.00" y="237.8" text-anchor="middle" class="t">25</text>
<line x1="411.9" y1="225.05" x2="681.0" y2="225.05" stroke="#3a3a3a" stroke-width="1.3"/>
<line x1="412.5" y1="13.0" x2="412.5" y2="225.05" stroke="#3a3a3a" stroke-width="1.2"/>
<line x1="412.5" y1="13.50" x2="415.5" y2="13.50" stroke="#3a3a3a" stroke-width="1.1"/>
<text x="408.6" y="17.10" text-anchor="end" class="t">2</text>
<line x1="412.5" y1="39.94" x2="415.5" y2="39.94" stroke="#3a3a3a" stroke-width="1.1"/>
<text x="408.6" y="43.54" text-anchor="end" class="t"><tspan class="h">1</tspan>.5</text><path class="g1" transform="translate(394.69,43.54) scale(0.004883,-0.004883)" d="M515 0L515 1237L197 1010L197 1180L530 1409L696 1409L696 0Z" stroke-width="61.4"/>
<line x1="412.5" y1="66.39" x2="415.5" y2="66.39" stroke="#3a3a3a" stroke-width="1.1"/>
<text x="408.6" y="69.99" text-anchor="end" class="t"><tspan class="h">1</tspan></text><path class="g1" transform="translate(403.04,69.99) scale(0.004883,-0.004883)" d="M515 0L515 1237L197 1010L197 1180L530 1409L696 1409L696 0Z" stroke-width="61.4"/>
<line x1="412.5" y1="92.83" x2="415.5" y2="92.83" stroke="#3a3a3a" stroke-width="1.1"/>
<text x="408.6" y="96.43" text-anchor="end" class="t">0.5</text>
<line x1="412.5" y1="119.28" x2="415.5" y2="119.28" stroke="#3a3a3a" stroke-width="1.1"/>
<text x="408.6" y="122.88" text-anchor="end" class="t">0</text>
<line x1="412.5" y1="145.72" x2="415.5" y2="145.72" stroke="#3a3a3a" stroke-width="1.1"/>
<text x="408.6" y="149.32" text-anchor="end" class="t">-0.5</text>
<line x1="412.5" y1="172.16" x2="415.5" y2="172.16" stroke="#3a3a3a" stroke-width="1.1"/>
<text x="408.6" y="175.76" text-anchor="end" class="t">-<tspan class="h">1</tspan></text><path class="g1" transform="translate(403.04,175.76) scale(0.004883,-0.004883)" d="M515 0L515 1237L197 1010L197 1180L530 1409L696 1409L696 0Z" stroke-width="61.4"/>
<line x1="412.5" y1="198.61" x2="415.5" y2="198.61" stroke="#3a3a3a" stroke-width="1.1"/>
<text x="408.6" y="202.21" text-anchor="end" class="t">-<tspan class="h">1</tspan>.5</text><path class="g1" transform="translate(394.69,202.21) scale(0.004883,-0.004883)" d="M515 0L515 1237L197 1010L197 1180L530 1409L696 1409L696 0Z" stroke-width="61.4"/>
<line x1="412.5" y1="225.05" x2="415.5" y2="225.05" stroke="#3a3a3a" stroke-width="1.1"/>
<text x="408.6" y="228.65" text-anchor="end" class="t">-2</text>
<line x1="412.50" y1="225.05" x2="412.50" y2="222.05" stroke="#3a3a3a" stroke-width="1.1"/>
<text x="412.50" y="237.8" text-anchor="middle" class="t">0</text>
<line x1="466.00" y1="225.05" x2="466.00" y2="222.05" stroke="#3a3a3a" stroke-width="1.1"/>
<text x="466.00" y="237.8" text-anchor="middle" class="t">5</text>
<line x1="519.50" y1="225.05" x2="519.50" y2="222.05" stroke="#3a3a3a" stroke-width="1.1"/>
<text x="519.50" y="237.8" text-anchor="middle" class="t"><tspan class="h">1</tspan>0</text><path class="g1" transform="translate(513.94,237.80) scale(0.004883,-0.004883)" d="M515 0L515 1237L197 1010L197 1180L530 1409L696 1409L696 0Z" stroke-width="61.4"/>
<line x1="573.00" y1="225.05" x2="573.00" y2="222.05" stroke="#3a3a3a" stroke-width="1.1"/>
<text x="573.00" y="237.8" text-anchor="middle" class="t"><tspan class="h">1</tspan>5</text><path class="g1" transform="translate(567.44,237.80) scale(0.004883,-0.004883)" d="M515 0L515 1237L197 1010L197 1180L530 1409L696 1409L696 0Z" stroke-width="61.4"/>
<line x1="626.50" y1="225.05" x2="626.50" y2="222.05" stroke="#3a3a3a" stroke-width="1.1"/>
<text x="626.50" y="237.8" text-anchor="middle" class="t">20</text>
<line x1="680.00" y1="225.05" x2="680.00" y2="222.05" stroke="#3a3a3a" stroke-width="1.1"/>
<text x="680.00" y="237.8" text-anchor="middle" class="t">25</text>
<rect x="233.4" y="20.4" width="62.4" height="35.5" fill="#fff" stroke="#3a3a3a" stroke-width="1.1"/>
<line x1="236.0" y1="30" x2="260.8" y2="30" stroke="#62c3a2" stroke-width="2" stroke-dasharray="4.9 1.3 2.4 1.3"/>
<line x1="236.0" y1="46.6" x2="260.8" y2="46.6" stroke="#c25050" stroke-width="2"/>
<text x="262.7" y="31.4" class="e">e</text><text x="268.7" y="35.8" class="s">HSM<tspan class="h">1</tspan></text><path class="g1" transform="translate(287.59,35.80) scale(0.004150,-0.004150)" d="M515 0L515 1237L197 1010L197 1180L530 1409L696 1409L696 0Z" stroke-width="72.3"/>
<text x="262.7" y="48.3" class="e">e</text><text x="268.7" y="53.2" class="s">RSM<tspan class="h">1</tspan></text><path class="g1" transform="translate(287.59,53.20) scale(0.004150,-0.004150)" d="M515 0L515 1237L197 1010L197 1180L530 1409L696 1409L696 0Z" stroke-width="72.3"/>
<rect x="612.2" y="20.4" width="62.4" height="35.5" fill="#fff" stroke="#3a3a3a" stroke-width="1.1"/>
<line x1="614.8000000000001" y1="30" x2="639.6" y2="30" stroke="#62c3a2" stroke-width="2" stroke-dasharray="4.9 1.3 2.4 1.3"/>
<line x1="614.8000000000001" y1="46.6" x2="639.6" y2="46.6" stroke="#c25050" stroke-width="2"/>
<text x="641.5" y="31.4" class="e">e</text><text x="647.5" y="35.8" class="s">HSM2</text>
<text x="641.5" y="48.3" class="e">e</text><text x="647.5" y="53.2" class="s">RSM2</text>
<text x="34.5" y="12.0" class="t" style="font-size:10.6px;stroke:none">×</text><text x="42.8" y="11" class="t" style="font-size:9.5px"><tspan class="h">1</tspan>0</text><path class="g1" transform="translate(42.80,11.00) scale(0.004639,-0.004639)" d="M515 0L515 1237L197 1010L197 1180L530 1409L696 1409L696 0Z" stroke-width="64.7"/><text x="52.8" y="5.9" class="sup">-2</text>
<text x="413.5" y="12.0" class="t" style="font-size:10.6px;stroke:none">×</text><text x="421.8" y="11" class="t" style="font-size:9.5px"><tspan class="h">1</tspan>0</text><path class="g1" transform="translate(421.80,11.00) scale(0.004639,-0.004639)" d="M515 0L515 1237L197 1010L197 1180L530 1409L696 1409L696 0Z" stroke-width="64.7"/><text x="431.8" y="5.9" class="sup">-2</text>
<text x="167.7" y="251.1" text-anchor="middle" class="xl">Time (s)</text>
<text x="546.7" y="251.1" text-anchor="middle" class="xl">Time (s)</text>
<text transform="translate(8.1,119.7) rotate(-90)" text-anchor="middle" class="yl">Joint <tspan class="h">1</tspan> tracking error (rad)</text><path class="g1" transform="translate(8.1,119.7) rotate(-90) translate(-36.30,0.00) scale(0.005273,-0.005273)" d="M515 0L515 1237L197 1010L197 1180L530 1409L696 1409L696 0Z" stroke-width="56.9"/>
<text transform="translate(387.1,119.7) rotate(-90)" text-anchor="middle" class="yl">Joint 2 tracking error (rad)</text>
<text x="168.5" y="287.2" text-anchor="middle" class="cap">(a)</text>
<text x="539.4" y="287.2" text-anchor="middle" class="cap">(b)</text>
</svg></body></html>
